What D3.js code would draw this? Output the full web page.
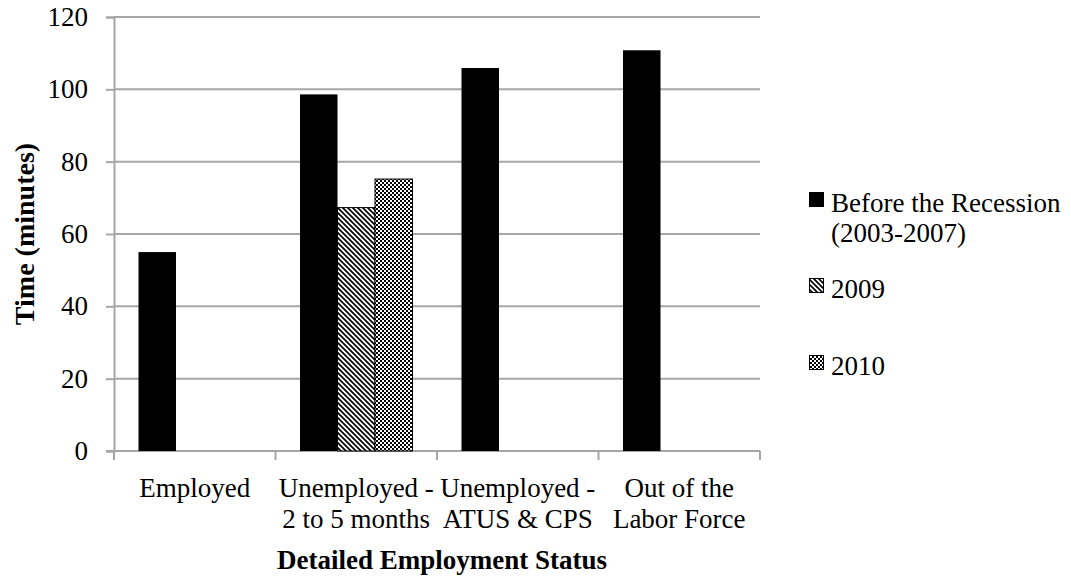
<!DOCTYPE html>
<html><head><meta charset="utf-8">
<script src="https://cdn.jsdelivr.net/npm/d3@7"></script>
<style>body{margin:0;background:#fff}svg{display:block}text{font-family:"Liberation Serif","Times New Roman",serif;fill:#000}</style>
</head><body>
<script>
const categories = [["Employed"],["Unemployed -","2 to 5 months"],["Unemployed -","ATUS & CPS"],["Out of the","Labor Force"]];
const seriesNames = [["Before the Recession","(2003-2007)"],["2009"],["2010"]];
const beforeRecession = [55.0, 98.6, 105.9, 110.8];
const y2009 = [null, 67.3, null, null];
const y2010 = [null, 75.2, null, null];
const yTicks = [0,20,40,60,80,100,120];

const W=1071,H=577;
const svg=d3.select("body").append("svg").attr("width",W).attr("height",H);
const defs=svg.append("defs");
const p1=defs.append("pattern").attr("id","diag").attr("patternUnits","userSpaceOnUse").attr("width",5).attr("height",5);
p1.append("rect").attr("width",5).attr("height",5).attr("fill","#fff");
p1.append("path").attr("d","M-1,-1L6,6M-3,2L3,8M2,-3L8,3").attr("stroke","#000").attr("stroke-width",1.7);
const p2=defs.append("pattern").attr("id","check").attr("patternUnits","userSpaceOnUse").attr("width",4).attr("height",4);
p2.append("rect").attr("width",4).attr("height",4).attr("fill","#fff");
p2.append("rect").attr("width",2).attr("height",2).attr("fill","#000");
p2.append("rect").attr("x",2).attr("y",2).attr("width",2).attr("height",2).attr("fill","#000");
const fills=["#000","url(#diag)","url(#check)"];

const x0=114,x1=760,yTop=17,yBot=451;
const x=d3.scaleBand().domain(d3.range(categories.length)).range([x0,x1]);
const y=d3.scaleLinear().domain([0,120]).range([yBot,yTop]);
const groupW=112.5;
const xs=d3.scaleBand().domain(d3.range(3)).range([0,groupW]);
const grey="#a6a6a6";

svg.append("g").selectAll("line").data(yTicks.filter(d=>d>0)).join("line")
 .attr("x1",x0).attr("x2",x1).attr("y1",d=>y(d)).attr("y2",d=>y(d))
 .attr("stroke",grey).attr("stroke-width",2);

const ya=svg.append("g").attr("transform",`translate(${x0},0)`).call(d3.axisLeft(y).tickValues(yTicks).tickSize(8).tickPadding(18));
ya.select(".domain").attr("stroke",grey).attr("stroke-width",2);
ya.selectAll(".tick line").attr("stroke",grey).attr("stroke-width",2);
ya.selectAll("text").style("font-family","Liberation Serif").style("font-size","27px").attr("fill","#000");

const xa=svg.append("g").attr("transform",`translate(0,${yBot})`);
xa.append("line").attr("x1",x0-8).attr("x2",x1).attr("stroke",grey).attr("stroke-width",2);
const boundaries=d3.range(categories.length+1).map(i=>i<categories.length?x(i):x1);
xa.selectAll(".tk").data(boundaries).join("line").attr("x1",d=>d).attr("x2",d=>d).attr("y1",0).attr("y2",9).attr("stroke",grey).attr("stroke-width",2);

const series=[beforeRecession,y2009,y2010];
series.forEach((vals,si)=>{
 svg.append("g").selectAll("rect").data(vals.map((v,i)=>({v,i})).filter(d=>d.v!=null)).join("rect")
  .attr("x",d=>x(d.i)+x.bandwidth()/2-groupW/2+xs(si)).attr("width",xs.bandwidth())
  .attr("y",d=>y(d.v)).attr("height",d=>yBot-y(d.v))
  .attr("fill",fills[si]).attr("stroke",si?"#000":"none").attr("stroke-width",1);
});

const xl=svg.append("g");
categories.forEach((lines,i)=>{
 const cx=x(i)+x.bandwidth()/2;
 const t=xl.append("text").attr("x",cx).attr("y",497).attr("text-anchor","middle").style("font-size","27px");
 lines.forEach((l,j)=>t.append("tspan").attr("x",cx).attr("dy",j?31:0).text(l));
});

svg.append("text").attr("x",442).attr("y",569).attr("text-anchor","middle").style("font-size","27px").style("font-weight","bold").text("Detailed Employment Status");
svg.append("text").attr("transform","translate(34,234) rotate(-90)").attr("text-anchor","middle").style("font-size","28px").style("font-weight","bold").text("Time (minutes)");

const legY=[212,298,375];
seriesNames.forEach((lines,i)=>{
 svg.append("rect").attr("x",809.5).attr("y",legY[i]-19.5).attr("width",14).attr("height",14).attr("fill",fills[i]).attr("stroke","#000").attr("stroke-width",1);
 const t=svg.append("text").attr("x",831).attr("y",legY[i]).style("font-size","27px");
 lines.forEach((s,j)=>t.append("tspan").attr("x",831).attr("dy",j?30:0).text(s));
});
</script>
</body></html>
